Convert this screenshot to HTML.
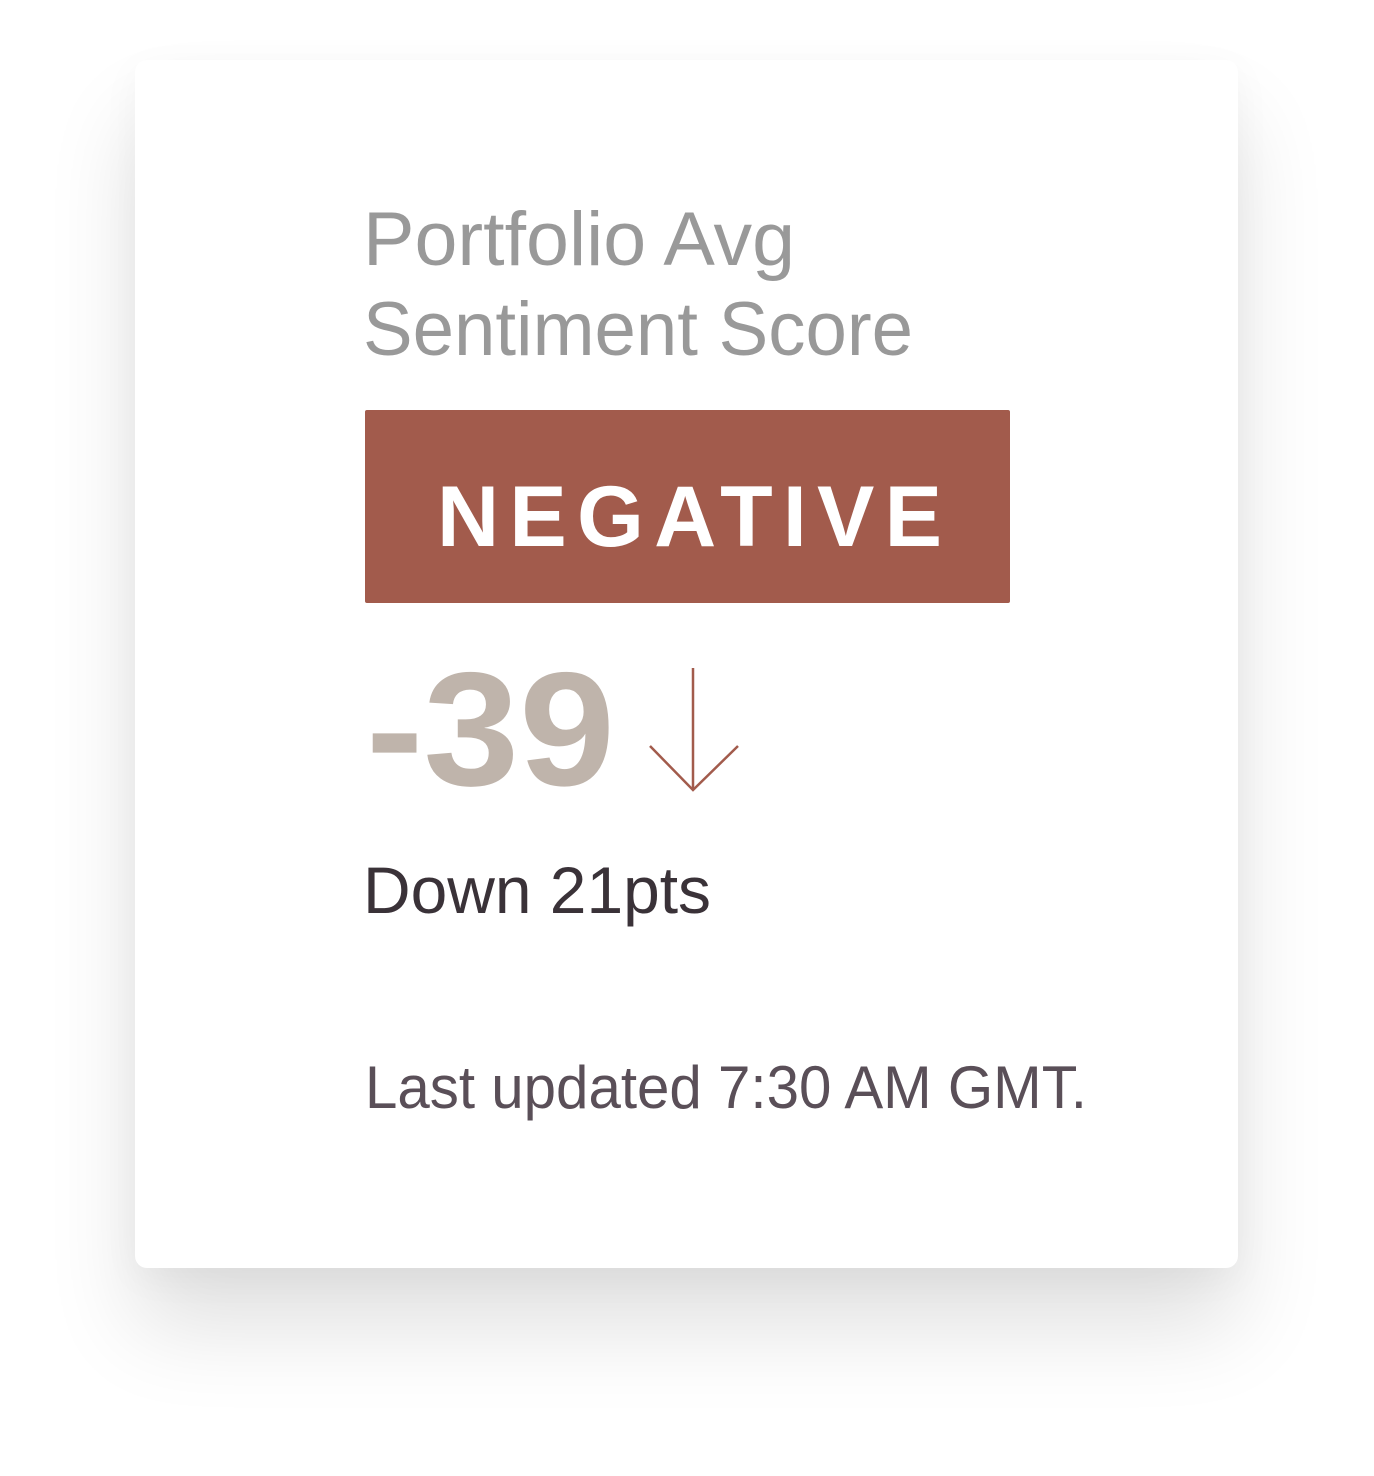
<!DOCTYPE html>
<html><head><meta charset="utf-8"><style>
html,body{margin:0;padding:0;width:1374px;height:1476px;background:#fff;overflow:hidden;}
.card{position:absolute;left:135px;top:60px;width:1103px;height:1208px;background:#fff;border-radius:12px;
box-shadow:0 60px 90px rgba(0,0,0,0.12),0 10px 40px rgba(0,0,0,0.04);}
svg{position:absolute;left:0;top:0;}
text{font-family:"Liberation Sans",sans-serif;}
</style></head><body>
<div class="card"></div>
<svg width="1374" height="1476">
<text x="363" y="265" font-size="76" fill="#999" textLength="432" lengthAdjust="spacingAndGlyphs">Portfolio Avg</text>
<text x="363" y="355" font-size="76" fill="#999" textLength="550" lengthAdjust="spacingAndGlyphs">Sentiment Score</text>
<rect x="365" y="410" width="645" height="193" rx="2" fill="#a25b4c"/>
<text x="437" y="546" font-size="86" font-weight="bold" fill="#fff" textLength="505" lengthAdjust="spacing">NEGATIVE</text>
<text x="366" y="785" font-size="162" font-weight="bold" fill="#bfb4ab" textLength="249" lengthAdjust="spacingAndGlyphs">-39</text>
<g stroke="#a25b4c" stroke-width="2.5" fill="none">
<line x1="693" y1="668" x2="693" y2="790"/>
<polyline points="650,746 693,790 738,746"/>
</g>
<text x="363" y="913" font-size="66" fill="#3a3238" textLength="348" lengthAdjust="spacingAndGlyphs">Down 21pts</text>
<text x="365" y="1108" font-size="60" fill="#5a4f58" textLength="722" lengthAdjust="spacingAndGlyphs">Last updated 7:30 AM GMT.</text>
</svg>
</body></html>
